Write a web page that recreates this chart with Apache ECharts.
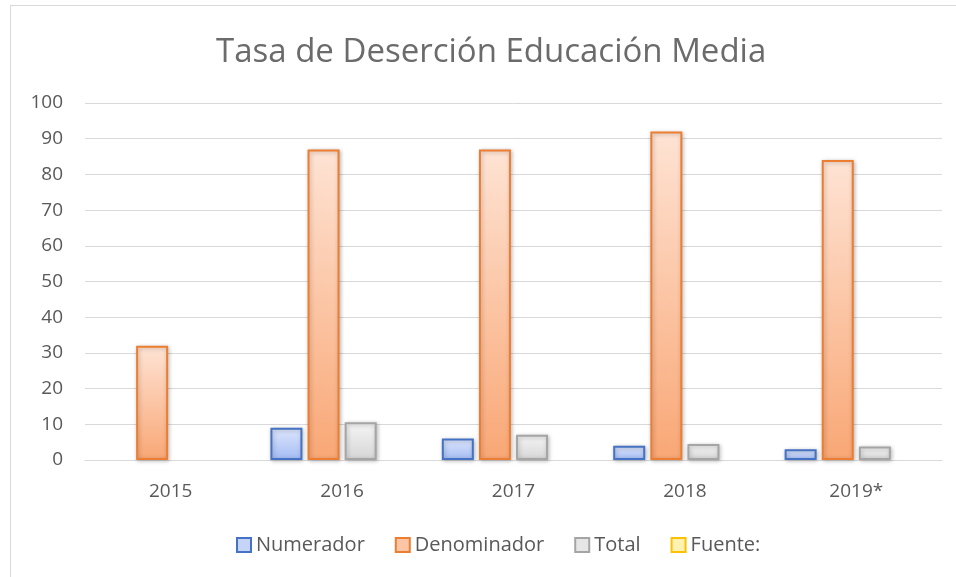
<!DOCTYPE html>
<html>
<head>
<meta charset="utf-8">
<script src="https://cdn.jsdelivr.net/npm/echarts@6/dist/echarts.min.js"></script>
<style>
html,body{margin:0;padding:0;background:#fff;}
#frame{position:absolute;left:10px;top:5px;width:950px;height:575px;border:1px solid #d9d9d9;box-sizing:border-box;}
#chart{position:absolute;left:0;top:0;width:956px;height:577px;}
</style>
</head>
<body>
<div id="frame"></div>
<div id="chart"></div>
<script>
var years = ['2015', '2016', '2017', '2018', '2019*'];
var numerador = [null, 9, 6, 4, 3];
var denominador = [32, 87, 87, 92, 84];
var total = [null, 10.6, 7.1, 4.5, 3.8];
var fuente = [null, null, null, null, null];
var yTicks = [0, 100, 10];

function grad(top, bottom) {
    return new echarts.graphic.LinearGradient(0, 0, 0, 1, [
        {offset: 0, color: top},
        {offset: 1, color: bottom}
    ]);
}
function barSeries(name, data, top, bottom, border) {
    return {
        name: name,
        type: 'bar',
        data: data,
        barWidth: 32,
        barGap: '16%',
        itemStyle: {
            color: grad(top, bottom),
            borderColor: border,
            borderWidth: 2,
            shadowColor: 'rgba(0,0,0,0.25)',
            shadowBlur: 4,
            shadowOffsetX: 1,
            shadowOffsetY: 1
        }
    };
}

var myChart = echarts.init(document.getElementById('chart'));
var font = '"Open Sans", "Noto Sans", sans-serif';
option = {
    animation: false,
    title: {
        text: 'Tasa de Deserción Educación Media',
        left: 211,
        top: 31,
        textStyle: {
            fontFamily: font,
            fontSize: 33,
            fontWeight: 'normal',
            color: '#6b6b6b'
        }
    },
    legend: {
        bottom: 17,
        left: 231,
        icon: 'rect',
        itemWidth: 14,
        itemHeight: 14,
        itemGap: 30,
        textStyle: {fontFamily: font, fontSize: 20, color: '#595959'},
        data: [
            {name: 'Numerador', itemStyle: {color: '#c6d5f7', borderColor: '#4472c4', borderWidth: 2, shadowBlur: 0}},
            {name: 'Denominador', itemStyle: {color: '#fbc5a6', borderColor: '#ed7d31', borderWidth: 2, shadowBlur: 0}},
            {name: 'Total', itemStyle: {color: '#e6e6e6', borderColor: '#a5a5a5', borderWidth: 2, shadowBlur: 0}},
            {name: 'Fuente:', itemStyle: {color: '#fff2b3', borderColor: '#ffc000', borderWidth: 2, shadowBlur: 0}}
        ]
    },
    grid: {
        left: 85,
        right: 14,
        top: 103,
        bottom: 117
    },
    xAxis: {
        type: 'category',
        data: years,
        axisLine: {lineStyle: {color: '#d9d9d9', width: 1}},
        axisTick: {show: false},
        axisLabel: {fontFamily: font, fontSize: 19, color: '#595959', margin: 22}
    },
    yAxis: {
        type: 'value',
        min: yTicks[0],
        max: yTicks[1],
        interval: yTicks[2],
        axisLine: {show: false},
        axisTick: {show: false},
        splitLine: {lineStyle: {color: '#d9d9d9', width: 1}},
        axisLabel: {fontFamily: font, fontSize: 19, color: '#595959', margin: 22}
    },
    series: [
        barSeries('Numerador', numerador, '#dde6fc', '#a4bcf4', '#4472c4'),
        barSeries('Denominador', denominador, '#fee3d4', '#f9a775', '#ed7d31'),
        barSeries('Total', total, '#f5f5f5', '#d6d6d6', '#a5a5a5'),
        barSeries('Fuente:', fuente, '#fff2b3', '#ffd966', '#ffc000')
    ]
};
myChart.setOption(option);
</script>
</body>
</html>
